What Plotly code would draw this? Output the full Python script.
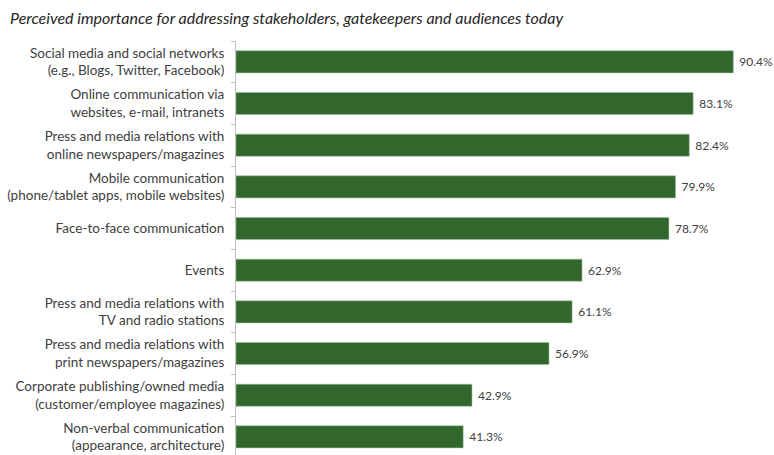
import plotly.graph_objects as go

categories = [
    "Social media and social networks<br>(e.g., Blogs, Twitter, Facebook)",
    "Online communication via<br>websites, e-mail, intranets",
    "Press and media relations with<br>online newspapers/magazines",
    "Mobile communication<br>(phone/tablet apps, mobile websites)",
    "Face-to-face communication",
    "Events",
    "Press and media relations with<br>TV and radio stations",
    "Press and media relations with<br>print newspapers/magazines",
    "Corporate publishing/owned media<br>(customer/employee magazines)",
    "Non-verbal communication<br>(appearance, architecture)",
]
values = [90.4, 83.1, 82.4, 79.9, 78.7, 62.9, 61.1, 56.9, 42.9, 41.3]
value_labels = [f" {v:.1f}%" for v in values]
title_text = "Perceived importance for addressing stakeholders, gatekeepers and audiences today"

fig = go.Figure(go.Bar(
    x=values, y=categories, orientation="h",
    marker=dict(color="#31662c", line=dict(color="#9fbf9a", width=0.6)),
    width=0.53,
    text=value_labels, textposition="outside",
    textfont=dict(family="Lato", size=12, color="#404040"),
    cliponaxis=False,
))

fig.update_layout(
    width=774, height=455,
    margin=dict(l=236, r=0, t=41, b=0),
    paper_bgcolor="white", plot_bgcolor="white",
    showlegend=False,
    title=dict(text=title_text, x=0.013, xanchor="left", y=0.96, yanchor="middle",
               font=dict(family="Lato", size=16, color="#262626", style="italic")),
    xaxis=dict(range=[0, 97.8], visible=False),
    yaxis=dict(
        autorange=False, range=[9.435, -0.5],
        showline=True, linecolor="#bfbfbf", linewidth=1,
        ticks="outside", tickson="boundaries", ticklen=4, tickcolor="#bfbfbf",
        ticklabelstandoff=8,
        tickfont=dict(family="Lato", size=13.5, color="#404040"),
        showgrid=False,
    ),
    bargap=0.47,
)

fig.write_html("out.html")
